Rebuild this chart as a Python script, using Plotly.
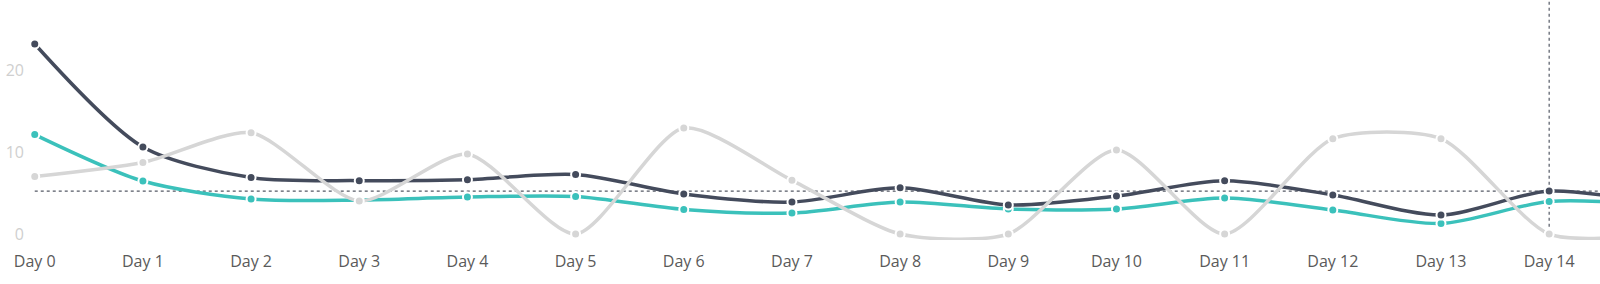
import plotly.graph_objects as go

days = [f"Day {i}" for i in range(16)]
x_idx = list(range(16))

series_dark = [23.17, 10.61, 6.89, 6.51, 6.63, 7.26, 4.88, 3.90, 5.63, 3.54, 4.63, 6.51, 4.76, 2.32, 5.24, 3.66]
series_teal = [12.13, 6.46, 4.27, 4.15, 4.51, 4.57, 2.99, 2.56, 3.90, 3.05, 3.05, 4.39, 2.93, 1.28, 3.96, 3.54]
series_gray = [7.01, 8.72, 12.35, 4.02, 9.76, 0, 12.93, 6.55, 0, 0, 10.24, 0, 11.61, 11.61, 0, 0]

y_ticks = [0, 10, 20]
y_tick_labels = ["0", "10", "20"]

hover_index = 14

DARK = "#444b5c"
TEAL = "#3bc1bb"
GRAY = "#d6d6d6"

fig = go.Figure()
for name, vals, col, sm in [("B", series_teal, TEAL, 0.8), ("A", series_dark, DARK, 0.8), ("C", series_gray, GRAY, 0.7)]:
    fig.add_trace(go.Scatter(
        x=x_idx, y=vals, mode="lines+markers", name=name,
        line=dict(color=col, width=3.5, shape="spline", smoothing=sm),
        marker=dict(color=col, size=9, line=dict(color="white", width=2)),
        cliponaxis=False,
    ))

fig.add_shape(type="line", xref="x", yref="y", x0=0, x1=14.6,
              y0=series_dark[hover_index], y1=series_dark[hover_index],
              line=dict(color="#555a66", width=1.2, dash="dot"), layer="below")
fig.add_shape(type="line", xref="x", yref="paper", x0=hover_index, x1=hover_index,
              y0=0.03, y1=1, line=dict(color="#555a66", width=1.2, dash="dot"), layer="below")

fig.update_layout(
    width=1600, height=284,
    margin=dict(l=25, r=0, t=0, b=44),
    paper_bgcolor="white", plot_bgcolor="white",
    showlegend=False,
    font=dict(family="Open Sans", size=16, color="#5a5a5a"),
    xaxis=dict(range=[-0.09, 14.47], tickmode="array", tickvals=x_idx, ticktext=days,
               showgrid=False, zeroline=False, showline=False, ticks="",
               ticklabelstandoff=10),
    yaxis=dict(range=[-0.73, 28.54], tickmode="array", tickvals=y_ticks, ticktext=y_tick_labels,
               showgrid=False, zeroline=False, showline=False, ticks="",
               tickfont=dict(color="#cfcfcf", size=16)),
)

fig.write_html("out.html")
